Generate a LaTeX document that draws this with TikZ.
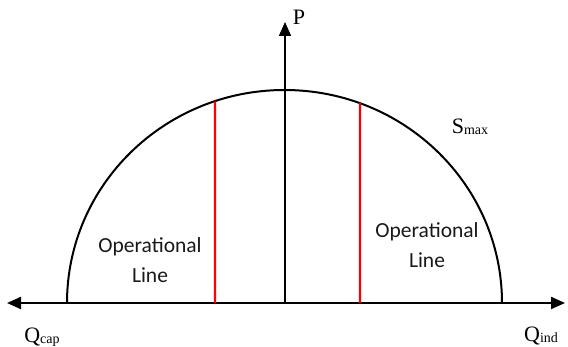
\documentclass[tikz,border=0pt]{standalone}
\usepackage{fontspec}
\setmainfont{Liberation Serif}
\newfontfamily\opfont{Carlito}
\usetikzlibrary{arrows.meta,calc}

\tikzset{
  axis/.style={line width=2.2pt, -{Triangle[length=14pt,width=12pt]}},
  oline/.style={red, line width=2.2pt},
  lbl/.style={font=\fontsize{22}{22}\selectfont, inner sep=0pt},
  optext/.style={font=\opfont\fontsize{21.5}{30}\selectfont, align=center, inner sep=0pt, text=black!90}
}
\newcommand{\sub}[1]{\raisebox{-1.5pt}{\fontsize{14}{14}\selectfont #1}}

\begin{document}
\begin{tikzpicture}[x=1pt, y=1pt]
  \useasboundingbox (0,0) rectangle (568,347);
  % axes
  \coordinate (o) at (285,44);
  \coordinate (left) at (7,44);
  \coordinate (right) at (565,44);
  \coordinate (top) at (285,325);
  \draw[axis] (o) -- (left);
  \draw[axis] (o) -- (right);
  \draw[axis, line width=1.6pt] (o) -- (top);
  % capability curve
  \coordinate (s0) at (67,44);
  \draw[line width=2pt] (s0) arc[start angle=180, end angle=0, x radius=217.5, y radius=213];
  % operational lines
  \coordinate (a1) at (215,44);
  \coordinate (b1) at ($(o)+(108.77:217.5 and 213)$);
  \coordinate (a2) at (360,44);
  \coordinate (b2) at ($(o)+(69.83:217.5 and 213)$);
  \draw[oline] (a1) -- (b1);
  \draw[oline] (a2) -- (b2);
  % labels
  \node[lbl] (p) at (299,330) {P};
  \node[lbl] (smax) at (470,220) {S\sub{max}};
  \node[lbl] (qcap) at (42,10) {Q\sub{cap}};
  \node[lbl] (qind) at (541,11) {Q\sub{ind}};
  \node[optext] (op1) at (150,87) {Operational\\Line};
  \node[optext] (op2) at (427,102) {Operational\\Line};
\end{tikzpicture}
\end{document}
